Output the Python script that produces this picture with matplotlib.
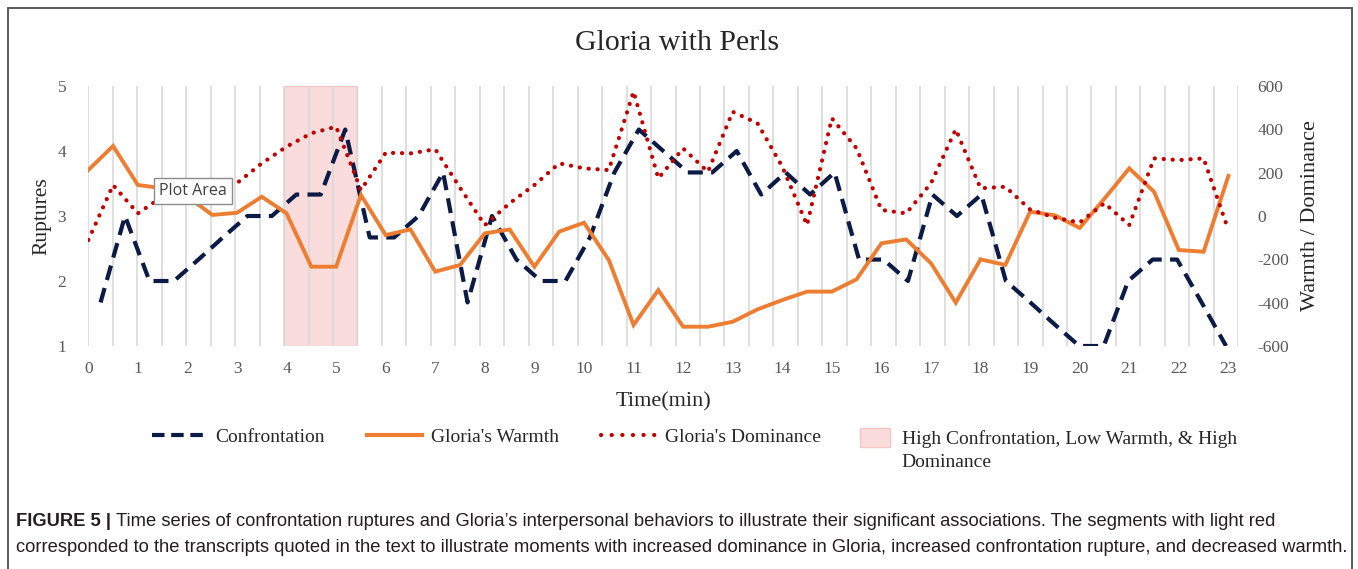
import numpy as np
import matplotlib.pyplot as plt
from matplotlib.lines import Line2D
from matplotlib.patches import Patch, Rectangle

plt.rcParams['axes.unicode_minus'] = False

# time axis (min), one sample every half minute
minutes = [0, 0.5, 1, 1.5, 2, 2.5, 3, 3.5, 4, 4.5, 5, 5.5, 6, 6.5, 7, 7.5, 8, 8.5,
           9, 9.5, 10, 10.5, 11, 11.5, 12, 12.5, 13, 13.5, 14, 14.5, 15, 15.5,
           16, 16.5, 17, 17.5, 18, 18.5, 19, 19.5, 20, 20.5, 21, 21.5, 22, 22.5, 23]
xtick_labels = list(range(0, 24))

# ruptures (left axis), 47 segments on their own category axis
confrontation = [1.67, 3, 2, 2, 2.33, 2.67, 3, 3, 3.33, 3.33, 4.33, 2.67, 2.67, 3,
                 3.67, 1.67, 3, 2.33, 2, 2, 2.67, 3.67, 4.33, 4, 3.67, 3.67, 4,
                 3.33, 3.67, 3.33, 3.67, 2.33, 2.33, 2, 3.33, 3, 3.33, 2, 1.67,
                 1.33, 1, 1, 2, 2.33, 2.33, 1.67, 1]

# warmth / dominance (right axis)
warmth = [212, 323, 143, 128, 90, 5, 15, 89, 12, -234, -234, 97, -88, -62, -257,
          -226, -80, -62, -234, -72, -31, -203, -503, -342, -511, -511, -488,
          -431, -388, -349, -349, -292, -126, -108, -218, -400, -200, -226, 20,
          3, -55, 80, 220, 112, -157, -165, 185]
dominance = [-111, 143, 12, 90, 110, 130, 152, 243, 320, 382, 412, 120, 292, 289,
             308, 130, -42, 59, 143, 243, 220, 212, 574, 174, 312, 204, 481, 428,
             228, -42, 451, 312, 28, 12, 151, 400, 128, 135, 30, -8, -30, 59, -42,
             266, 258, 266, -65]

# highlighted segments (category index on the confrontation axis)
span_start, span_end = 8, 11

navy = '#0c1b45'
orange = '#ed7d31'
red = '#c00000'
pink = '#fadcdc'
grey = '#595959'
dark = '#262626'
serif = 'Liberation Serif'

W, H = 1358, 569
fig = plt.figure(figsize=(W / 100, H / 100), dpi=100)

ax = fig.add_axes([88.3 / W, 1 - 346 / H, 1150 / W, 260 / H])
ax_c = ax.twiny()
ax_r = ax.twinx()

for a in (ax, ax_c, ax_r):
    for s in a.spines.values():
        s.set_visible(False)

# base axis: minute labels + ruptures
ax.set_xlim(0, 23.2)
ax.set_xticks(xtick_labels)
ax.set_xticklabels([str(v) for v in xtick_labels])
ax.set_ylim(1, 5)
ax.set_yticks([1, 2, 3, 4, 5])
ax.tick_params(axis='x', length=0, pad=11, labelsize=12.5, labelcolor=grey)
ax.tick_params(axis='y', length=0, pad=16, labelsize=12.5, labelcolor=grey)
for lab in ax.get_xticklabels() + ax.get_yticklabels():
    lab.set_family(serif)
ax.set_xlabel('Time(min)', family=serif, fontsize=16, color=dark, labelpad=11)
ax.set_ylabel('Ruptures', family=serif, fontsize=15.5, color=dark, labelpad=4)

# confrontation on its own category axis (gridlines belong to it)
ncat = len(confrontation)
ax_c.set_xlim(0, ncat)
ax_c.set_xticks(np.arange(ncat + 1))
ax_c.tick_params(axis='x', top=False, labeltop=False, length=0)
ax_c.grid(axis='x', color='#d9d9d9', lw=1.2)
ax_c.set_axisbelow(True)
ax_c.axvspan(span_start, span_end, color=pink, ec='#f3c6c6', lw=1, zorder=0.5)
ax_c.plot(np.arange(ncat) + 0.5, confrontation, color=navy, lw=3.0,
          ls=(0, (3.6, 2.0)), zorder=3)

# warmth and dominance
ax_r.set_ylim(-600, 600)
ax_r.set_yticks([-600, -400, -200, 0, 200, 400, 600])
ax_r.tick_params(axis='y', length=0, pad=14, labelsize=12.5, labelcolor=grey)
for lab in ax_r.get_yticklabels():
    lab.set_family(serif)
ax_r.set_ylabel('Warmth / Dominance', family=serif, fontsize=16, color=dark,
                labelpad=8)
ax_r.plot(minutes, warmth, color=orange, lw=2.8, solid_joinstyle='miter', zorder=3)
ax_r.plot(minutes, dominance, color=red, lw=3.0, ls=(0, (0.05, 2.1)),
          dash_capstyle='round', zorder=4)

fig.text(677 / W, 1 - 43 / H, 'Gloria with Perls', ha='center', va='center',
         family=serif, fontsize=21.5, color=dark)

# "Plot Area" tooltip left in the exported picture
fig.text(193 / W, 1 - 191 / H, 'Plot Area', ha='center', va='center',
         family='Open Sans', fontsize=11.5, color='#404040',
         bbox=dict(boxstyle='square,pad=0.3', fc='white', ec='#8c8c8c', lw=1))

# legend
lfs = 14
handles = [Line2D([], [], color=navy, lw=3.0, ls=(0, (3.0, 1.6))),
           Line2D([], [], color=orange, lw=3.0),
           Line2D([], [], color=red, lw=3.0, ls=(0, (0.05, 2.5)), dash_capstyle='round')]
leg1 = fig.legend(handles, ['Confrontation', "Gloria's Warmth", "Gloria's Dominance"],
                  ncol=3, loc='upper left', bbox_to_anchor=(152 / W, 1 - 428 / H),
                  frameon=False, borderpad=0, borderaxespad=0, handlelength=2.8,
                  handletextpad=0.45, columnspacing=2.2,
                  prop={'family': serif, 'size': lfs})
for t in leg1.get_texts():
    t.set_color(dark)
leg2 = fig.legend([Patch(fc=pink, ec='#f3c6c6')], ['High Confrontation, Low Warmth, & High'],
                  loc='upper left', bbox_to_anchor=(860 / W, 1 - 428 / H),
                  frameon=False, borderpad=0, borderaxespad=0, handlelength=1.55,
                  handleheight=1.1, handletextpad=0.6,
                  prop={'family': serif, 'size': lfs})
leg2.get_texts()[0].set_color(dark)

fig.canvas.draw()
r = fig.canvas.get_renderer()
bb = leg2.get_texts()[0].get_window_extent(r)
fig.text(bb.x0 / W, (bb.y0 - 6) / H, 'Dominance', ha='left', va='top',
         family=serif, fontsize=lfs, color=dark)

# caption
cap_font = 'Liberation Sans'
cfs = 13.2
t1 = fig.text(16 / W, 1 - 521 / H, 'FIGURE 5 |', ha='left', va='center',
              family=cap_font, fontsize=cfs, weight='bold', color='#231f20')
fig.canvas.draw()
bb1 = t1.get_window_extent(fig.canvas.get_renderer())
fig.text((bb1.x1 + 5) / W, 1 - 521 / H,
         "Time series of confrontation ruptures and Gloria\u2019s interpersonal behaviors to "
         "illustrate their significant associations. The segments with light red",
         ha='left', va='center', family=cap_font, fontsize=cfs, color='#231f20')
fig.text(16 / W, 1 - 548 / H,
         "corresponded to the transcripts quoted in the text to illustrate moments with "
         "increased dominance in Gloria, increased confrontation rupture, and decreased warmth.",
         ha='left', va='center', family=cap_font, fontsize=cfs, color='#231f20')

# outer frame (open at the bottom edge of the crop)
fig.add_artist(Rectangle((8 / W, -0.05), (1352 - 8) / W, 1.05 - 8 / H,
                         transform=fig.transFigure, fill=False, ec='#4d4d4d', lw=1.3))

fig.savefig('out.png', dpi=100)
